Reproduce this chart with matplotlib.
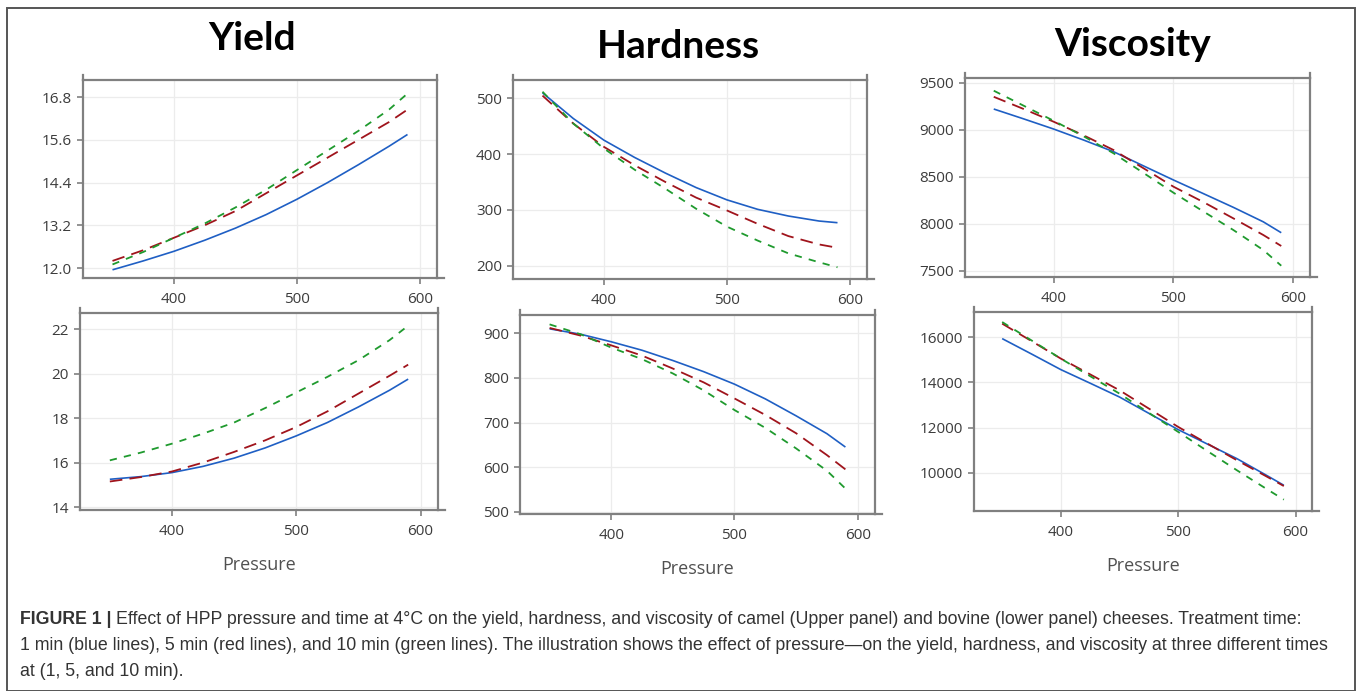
import matplotlib
matplotlib.use("Agg")
import matplotlib.pyplot as plt
from matplotlib import font_manager
from matplotlib.patches import Rectangle

# pressure levels
pressure = [350, 375, 400, 425, 450, 475, 500, 525, 550, 575, 590]

# camel (upper panel)
yield_top_1 = [11.95, 12.2, 12.47, 12.78, 13.12, 13.5, 13.93, 14.4, 14.9, 15.42, 15.75]
yield_top_5 = [12.2, 12.5, 12.85, 13.2, 13.6, 14.1, 14.6, 15.1, 15.6, 16.1, 16.45]
yield_top_10 = [12.1, 12.45, 12.85, 13.25, 13.7, 14.2, 14.75, 15.3, 15.85, 16.45, 16.9]

hard_top_1 = [510, 464, 425, 394, 366, 340, 318, 301, 289, 280, 277]
hard_top_5 = [505, 455, 413, 380, 350, 322, 299, 275, 253, 238, 232]
hard_top_10 = [512, 455, 410, 372, 338, 302, 270, 245, 222, 206, 197]

visc_top_1 = [9220, 9115, 9007, 8890, 8766, 8615, 8465, 8320, 8174, 8020, 7904]
visc_top_5 = [9350, 9220, 9085, 8940, 8784, 8590, 8394, 8230, 8057, 7880, 7763]
visc_top_10 = [9415, 9255, 9095, 8930, 8749, 8540, 8330, 8130, 7933, 7720, 7553]

# bovine (lower panel)
yield_bot_1 = [15.25, 15.37, 15.55, 15.83, 16.2, 16.66, 17.2, 17.8, 18.5, 19.25, 19.75]
yield_bot_5 = [15.15, 15.35, 15.6, 16.0, 16.48, 17.0, 17.6, 18.3, 19.1, 19.9, 20.4]
yield_bot_10 = [16.1, 16.45, 16.85, 17.3, 17.8, 18.45, 19.15, 19.85, 20.6, 21.5, 22.15]

hard_bot_1 = [910, 898, 881, 862, 839, 814, 786, 753, 715, 675, 645]
hard_bot_5 = [912, 895, 873, 850, 821, 790, 754, 717, 676, 627, 595]
hard_bot_10 = [920, 898, 868, 842, 810, 772, 728, 688, 642, 592, 552]

visc_bot_1 = [15929, 15250, 14560, 13960, 13350, 12630, 11910, 11270, 10630, 9900, 9453]
visc_bot_5 = [16590, 15820, 15046, 14350, 13647, 12840, 12030, 11290, 10560, 9850, 9420]
visc_bot_10 = [16662, 15850, 15046, 14270, 13500, 12650, 11810, 10960, 10117, 9300, 8820]

titles = ["Yield", "Hardness", "Viscosity"]
x_ticks = [400, 500, 600]
yield_top_ticks = [12.0, 13.2, 14.4, 15.6, 16.8]
yield_bot_ticks = [14, 16, 18, 20, 22]
hard_top_ticks = [200, 300, 400, 500]
hard_bot_ticks = [500, 600, 700, 800, 900]
visc_top_ticks = [7500, 8000, 8500, 9000, 9500]
visc_bot_ticks = [10000, 12000, 14000, 16000]

W, H = 1358, 691
fig = plt.figure(figsize=(W / 100, H / 100), dpi=100)

names = {f.name for f in font_manager.fontManager.ttflist}
tick_font = "Open Sans" if "Open Sans" in names else "DejaVu Sans"
title_font = "Lato" if "Lato" in names else "DejaVu Sans"
cap_font = "Liberation Sans Narrow" if "Liberation Sans Narrow" in names else "Liberation Sans"

BLUE = "#1f5fc4"
RED = "#a0141c"
GREEN = "#1f9a2e"
SPINE = "#808080"


def px_axes(x0, y0, x1, y1):
    return fig.add_axes([x0 / W, 1 - y1 / H, (x1 - x0) / W, (y1 - y0) / H])


def panel(rect, s1, s5, s10, yticks, ylim, fmt, xlabel=False):
    ax = px_axes(*rect)
    w_px = rect[2] - rect[0]
    h_px = rect[3] - rect[1]
    ax.plot(pressure, s1, color=BLUE, lw=1.2, solid_capstyle="butt")
    ax.plot(pressure, s5, color=RED, lw=1.3, dashes=(7, 4))
    ax.plot(pressure, s10, color=GREEN, lw=1.3, dashes=(4, 4))
    ax.set_xlim(326, 614)
    ax.set_ylim(*ylim)
    ax.set_xticks(x_ticks)
    ax.set_yticks(yticks)
    ax.set_yticklabels([fmt.format(v) for v in yticks])
    ax.grid(True, color="#ececec", lw=0.9)
    ax.set_axisbelow(True)
    for sp in ax.spines.values():
        sp.set_color(SPINE)
        sp.set_linewidth(1.6)
    # frame lines run a little past the corners, as in the original
    ext_y = 5 / h_px
    ext_x = 7 / w_px
    ax.plot([0, 0], [1, 1 + ext_y], transform=ax.transAxes, clip_on=False,
            color=SPINE, lw=1.6)
    ax.plot([1, 1], [1, 1 + ext_y], transform=ax.transAxes, clip_on=False,
            color=SPINE, lw=1.6)
    ax.plot([1, 1 + ext_x], [0, 0], transform=ax.transAxes, clip_on=False,
            color=SPINE, lw=1.6)
    ax.tick_params(colors=SPINE, length=4, width=1.2, labelcolor="#3c3c3c",
                   labelsize=11, pad=4)
    ax.tick_params(axis="x", pad=6)
    for lab in ax.get_xticklabels() + ax.get_yticklabels():
        lab.set_fontfamily(tick_font)
    if xlabel:
        ax.set_xlabel("Pressure", fontsize=13, color="#505050",
                      fontfamily=tick_font, labelpad=12)
    return ax


panel((83, 80, 437, 278), yield_top_1, yield_top_5, yield_top_10,
      yield_top_ticks, (11.72, 17.28), "{:.1f}")
panel((513, 80, 867, 279), hard_top_1, hard_top_5, hard_top_10,
      hard_top_ticks, (176, 533), "{:d}")
panel((965, 78, 1310, 277), visc_top_1, visc_top_5, visc_top_10,
      visc_top_ticks, (7433, 9550), "{:d}")
panel((80, 313, 438, 510), yield_bot_1, yield_bot_5, yield_bot_10,
      yield_bot_ticks, (13.87, 22.72), "{:d}", xlabel=True)
panel((520, 315, 875, 514), hard_bot_1, hard_bot_5, hard_bot_10,
      hard_bot_ticks, (495, 941), "{:d}", xlabel=True)
panel((974, 312, 1312, 511), visc_bot_1, visc_bot_5, visc_bot_10,
      visc_bot_ticks, (8318, 17104), "{:d}", xlabel=True)

# column titles
for title, cx, cy in zip(titles, [252, 678, 1133], [39, 46, 44]):
    fig.text(cx / W, 1 - cy / H, title, ha="center", va="center",
             fontsize=28, fontweight="bold", fontfamily=title_font, color="black")

# outer frame
fig.patches.append(Rectangle((7 / W, 0), (1355 - 7) / W, 1 - 8 / H,
                             transform=fig.transFigure, fill=False,
                             edgecolor="#555555", lw=1.4))

# caption
cap_kw = dict(fontsize=12.8, fontfamily=cap_font, color="#333333", va="baseline")
bold = fig.text(20 / W, 1 - 624 / H, "FIGURE 1 |", fontweight="bold", **cap_kw)
fig.canvas.draw()
bb = bold.get_window_extent()
fig.text((bb.x1 + 4) / W, 1 - 624 / H,
         "Effect of HPP pressure and time at 4\u00b0C on the yield, hardness, and viscosity "
         "of camel (Upper panel) and bovine (lower panel) cheeses. Treatment time:", **cap_kw)
fig.text(20 / W, 1 - 650 / H,
         "1 min (blue lines), 5 min (red lines), and 10 min (green lines). The illustration "
         "shows the effect of pressure\u2014on the yield, hardness, and viscosity at three "
         "different times", **cap_kw)
fig.text(20 / W, 1 - 676 / H, "at (1, 5, and 10 min).", **cap_kw)

fig.savefig("out.png", dpi=100)
